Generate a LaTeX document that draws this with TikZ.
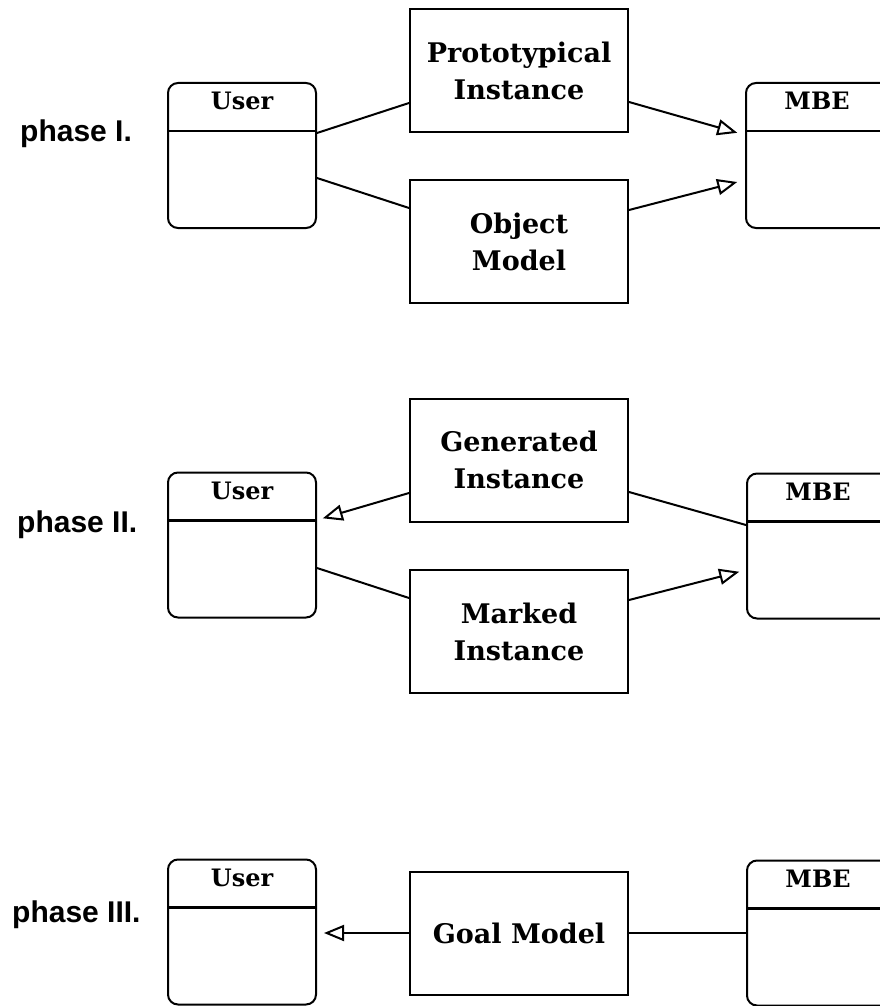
\documentclass[tikz,border=0pt]{standalone}
\usepackage{fontspec}
\newfontfamily\boxfont{DejaVu Serif}
\newfontfamily\phasefont{Liberation Sans}
\usetikzlibrary{arrows.meta,positioning,calc}
\tikzset{
  classbox/.style={draw, line width=2pt, rounded corners=10pt,
                   minimum width=148pt, minimum height=145pt, inner sep=0pt,
                   path picture={\draw[line width=2.4pt]
                     ([yshift=-48pt]path picture bounding box.north west) --
                     ([yshift=-48pt]path picture bounding box.north east);}},
  ctitle/.style={font=\boxfont\bfseries\fontsize{24}{28}\selectfont, inner sep=0pt,
                 text height=17.5pt, text depth=0pt},
  infobox/.style={draw, line width=2pt, minimum width=218pt, minimum height=123pt,
                  align=center, font=\boxfont\bfseries\fontsize{27}{37}\selectfont},
  phaselbl/.style={font=\phasefont\bfseries\fontsize{30}{34}\selectfont,
                   anchor=base west, inner sep=0pt},
  link/.style={line width=2pt},
  openarrow/.style={line width=2pt,
                    -{Triangle[open, length=20pt, width=16pt, line width=2pt]}},
}
\begin{document}
\begin{tikzpicture}[x=1pt, y=-1pt]
\useasboundingbox (0,0) rectangle (880,1006);
\clip (0,0) rectangle (880,1006);

% Phase I
\node[phaselbl] (ph1) at (20,142) {phase I.};
\node[classbox] (u1) at (242,155.5) {};
\node[ctitle, below=10pt of u1.north] (u1t) {User};
\node[classbox] (m1) at (820,155.5) {};
\node[ctitle, below=10pt of m1.north, xshift=-3pt] (m1t) {MBE};
\node[infobox] (proto) at (519,71) {Prototypical\\Instance};
\node[infobox] (objm) at (519,241.5) {Object\\Model};

\draw[link] ([yshift=22.5pt]u1.east) -- ([yshift=-32pt]proto.west);
\draw[openarrow, shorten >=8pt] ([yshift=-31pt]proto.east) -- ([yshift=20.5pt]m1.west);
\draw[link] ([yshift=-22.5pt]u1.east) -- ([yshift=33.5pt]objm.west);
\draw[openarrow, shorten >=8pt] ([yshift=31.5pt]objm.east) -- ([yshift=-24.5pt]m1.west);

% Phase II
\node[phaselbl] (ph2) at (17,532) {phase II.};
\node[classbox] (u2) at (242,545) {};
\node[ctitle, below=10pt of u2.north] (u2t) {User};
\node[classbox] (m2) at (821,546) {};
\node[ctitle, below=10pt of m2.north, xshift=-3pt] (m2t) {MBE};
\node[infobox] (gen) at (519,460) {Generated\\Instance};
\node[infobox] (mark) at (519,631.5) {Marked\\Instance};

\draw[openarrow, shorten >=6pt] ([yshift=-33pt]gen.west) -- ([yshift=25pt]u2.east);
\draw[link] ([yshift=-32pt]gen.east) -- ([yshift=21pt]m2.west);
\draw[link] ([yshift=-23pt]u2.east) -- ([yshift=33.5pt]mark.west);
\draw[openarrow, shorten >=7pt] ([yshift=31.5pt]mark.east) -- ([yshift=-24pt]m2.west);

% Phase III
\node[phaselbl] (ph3) at (12,922) {phase III.};
\node[classbox] (u3) at (242,932) {};
\node[ctitle, below=10pt of u3.north] (u3t) {User};
\node[classbox] (m3) at (821,933) {};
\node[ctitle, below=10pt of m3.north, xshift=-3pt] (m3t) {MBE};
\node[infobox] (goal) at (519,933) {Goal Model};

\draw[openarrow, shorten >=7pt] (goal.west) -- (goal.west -| u3.east);
\draw[link] (goal.east) -- (goal.east -| m3.west);

\end{tikzpicture}
\end{document}
